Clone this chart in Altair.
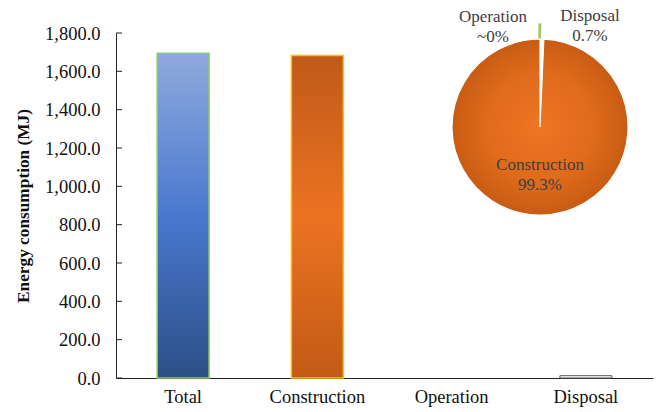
import altair as alt
import pandas as pd

categories = ["Total", "Construction", "Operation", "Disposal"]
energy_mj = [1695.0, 1683.0, 0.0, 12.0]
y_ticks = [0, 200, 400, 600, 800, 1000, 1200, 1400, 1600, 1800]

pie_parts = ["Disposal", "Construction", "Operation"]
pie_share = [0.7, 99.3, 0.0]
pie_order = [1, 2, 3]

bars = pd.DataFrame({"category": categories, "value": energy_mj})
pie = pd.DataFrame({"part": pie_parts, "share": pie_share, "ord": pie_order})
ticks = pd.DataFrame({"value": y_ticks})

FONT = "Liberation Serif"

x_enc = alt.X("category:N", sort=categories, title=None,
              scale=alt.Scale(domain=categories, paddingInner=0.613, paddingOuter=0.3065),
              axis=alt.Axis(labelAngle=0, labelFontSize=18.5, labelColor="#111",
                            labelFont=FONT, ticks=False, domainColor="#222",
                            labelPadding=9))
y_scale = alt.Scale(domain=[0, 1800], nice=False)
y_enc = alt.Y("value:Q", title="Energy consumption (MJ)", scale=y_scale,
              axis=alt.Axis(values=y_ticks, format=",.1f", labelOverlap=False,
                            labelFlush=False,
                            labelFontSize=18.5, labelFont=FONT, labelColor="#111",
                            titleFont=FONT, titleFontSize=17.3, titleFontWeight="bold",
                            titleColor="#111", domainColor="#222", ticks=False,
                            grid=False, titlePadding=12, labelPadding=16))

blue_grad = alt.Gradient(gradient="linear", x1=0, y1=0, x2=0, y2=1,
                         stops=[alt.GradientStop(color="#8faadc", offset=0),
                                alt.GradientStop(color="#4a78cf", offset=0.5),
                                alt.GradientStop(color="#2c4f86", offset=1)])
orange_grad = alt.Gradient(gradient="linear", x1=0, y1=0, x2=0, y2=1,
                           stops=[alt.GradientStop(color="#c0591a", offset=0),
                                  alt.GradientStop(color="#ec7322", offset=0.5),
                                  alt.GradientStop(color="#c25a16", offset=1)])

base = alt.Chart(bars).encode(x=x_enc, y=y_enc)

total_bar = base.transform_filter(alt.datum.category == "Total").mark_bar(
    fill=blue_grad, stroke="#92d050", strokeWidth=1.5)
cons_bar = base.transform_filter(alt.datum.category == "Construction").mark_bar(
    fill=orange_grad, stroke="#ffc000", strokeWidth=1.5)
other_bar = base.transform_filter(alt.datum.category == "Disposal").mark_bar(
    fill="#ffffff", stroke="#595959", strokeWidth=1)

inner_ticks = alt.Chart(ticks).mark_rule(color="#222", strokeWidth=1).encode(
    y=y_enc, x=alt.value(0), x2=alt.value(6))

pie_grad = alt.Gradient(gradient="radial", x1=0.5, y1=0.5, r1=0, x2=0.5, y2=0.5, r2=0.5,
                        stops=[alt.GradientStop(color="#ee7625", offset=0),
                               alt.GradientStop(color="#e06b1b", offset=0.6),
                               alt.GradientStop(color="#c85c14", offset=1)])

pie_base = alt.Chart(pie).encode(
    theta=alt.Theta("share:Q", stack=True),
    order=alt.Order("ord:Q"),
    x=alt.value(424), y=alt.value(94))

pie_cons = pie_base.mark_arc(outerRadius=88, fill=pie_grad, stroke="#ffffff",
                             strokeWidth=1.2).encode(
    opacity=alt.condition(alt.datum.part == "Construction", alt.value(1), alt.value(0)))
pie_disp = alt.Chart(pie).mark_arc(outerRadius=88, innerRadius=72, fill="#a4c266",
                                   stroke="#ffffff", strokeWidth=0.8).encode(
    theta=alt.Theta("share:Q", stack=True),
    order=alt.Order("ord:Q"),
    x=alt.value(422), y=alt.value(78),
    opacity=alt.condition(alt.datum.part == "Disposal", alt.value(1), alt.value(0)))

def label(txt, px, py):
    return alt.Chart(pd.DataFrame({"t": [txt]})).mark_text(
        font=FONT, fontSize=17, color="#404040", lineBreak="\n", lineHeight=20,
        align="center", baseline="top").encode(
        text="t:N", x=alt.value(px), y=alt.value(py))

lab_op = label("Operation\n~0%", 377, -24)
lab_dis = label("Disposal\n0.7%", 474, -25)
lab_con = label("Construction\n99.3%", 424, 124)

chart = alt.layer(total_bar, cons_bar, other_bar, inner_ticks, pie_cons, pie_disp,
                  lab_op, lab_dis, lab_con).properties(
    width=537, height=345,
    padding={"left": 116, "top": 33, "right": 3, "bottom": 34},
    autosize=alt.AutoSizeParams(type="none"),
    background="white"
).configure_view(stroke=None)

chart.save("out.html", embed_options={"renderer": "svg", "actions": False})
